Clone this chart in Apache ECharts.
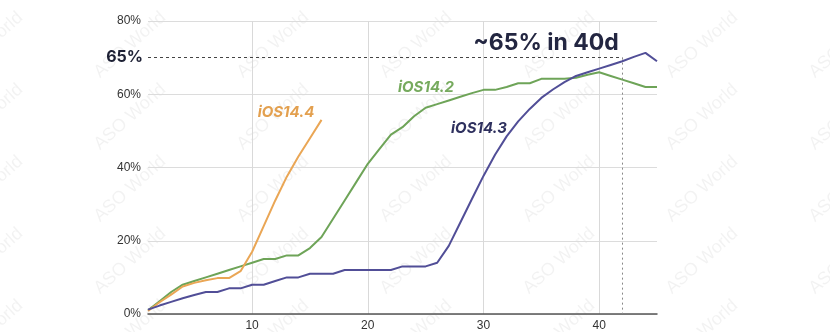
<!DOCTYPE html>
<html>
<head>
<meta charset="utf-8">
<script src="https://cdn.jsdelivr.net/npm/echarts@6/dist/echarts.min.js"></script>
<style>
html,body{margin:0;padding:0;background:#fff;}
#chart{width:830px;height:332px;}
</style>
</head>
<body>
<div id="chart"></div>
<script>
// ---- data ----
var days = [1,2,3,4,5,6,7,8,9,10,11,12,13,14,15,16,17,18,19,20,21,22,23,24,25,26,27,28,29,30,31,32,33,34,35,36,37,38,39,40,41,42,43,44,45];
var xTickLabels = [10, 20, 30, 40];
var yTicks = [0, 20, 40, 60, 80];
var ios144 = [0.8,3.2,5.3,7.5,8.5,9.2,9.8,9.8,11.7,17,24,31,37.5,43,48,53];
var ios142 = [1,3.5,6,8,9,10,11,12,13,14,15,15,16,16,18,21,26,31,36,41,45,49,51,54,56.3,57.3,58.3,59.3,60.3,61.2,61.2,62,63,63,64.2,64.2,64.2,64.5,65.3,66,65,64,63,62,62];
var ios143 = [1.2,2.3,3.3,4.3,5.2,6,6,7,7,8,8,9,10,10,11,11,11,12,12,12,12,12,13,13,13,14,18.6,25,31.4,37.7,43.5,48.5,52.6,56,59,61.3,63.3,65,66,67,68,69,70.2,71.3,69];
var targetLabel = '65%';      // annotation text
var targetLineValue = 70;     // level where the annotation line is drawn in the source
var targetDay = 42;
var seriesNames = ['iOS14.4', 'iOS14.2', 'iOS14.3'];
var headline = '~65% in 40d';

// ---- watermarks ----
var wm = [];
for (var cx = -13; cx < 900; cx += 143) {
  for (var cy = 45; cy < 400; cy += 72) {
    wm.push({
      type: 'text', x: cx, y: cy, rotation: 0.73, z: -10, silent: true,
      style: {text: 'ASO World', x: 0, y: 0, align: 'center', verticalAlign: 'middle',
        font: '18px "Liberation Sans", Arial, sans-serif', fill: 'rgba(0,0,0,0.05)'}
    });
  }
}

var chart = echarts.init(document.getElementById('chart'), null, {renderer: 'canvas'});
var labelFont = 'italic bold 15px Inter, "Open Sans", sans-serif';
chart.setOption({
  animation: false,
  backgroundColor: '#ffffff',
  grid: {left: 148, right: 173, top: 21, bottom: 18, containLabel: false},
  xAxis: {
    type: 'category',
    data: days.map(String),
    boundaryGap: false,
    axisLine: {show: true, lineStyle: {color: '#555', width: 1.5}},
    axisTick: {show: false},
    axisLabel: {
      interval: function (i, v) { return xTickLabels.indexOf(Number(v)) >= 0; },
      color: '#333', fontSize: 12, margin: 6,
      fontFamily: '"Liberation Sans", Arial, sans-serif'
    },
    splitLine: {
      show: true,
      interval: function (i, v) { return xTickLabels.indexOf(Number(v)) >= 0; },
      lineStyle: {color: '#d9d9d9', width: 1}
    }
  },
  yAxis: {
    type: 'value', min: yTicks[0], max: yTicks[yTicks.length - 1], interval: 20,
    axisLine: {show: false}, axisTick: {show: false},
    axisLabel: {formatter: '{value}%', color: '#333', fontSize: 12, margin: 7,
      fontFamily: '"Liberation Sans", Arial, sans-serif'},
    splitLine: {lineStyle: {color: '#dcdcdc', width: 1}}
  },
  series: [
    {name: seriesNames[0], type: 'line', data: ios144, showSymbol: false, symbol: 'none',
      lineStyle: {color: '#eaa655', width: 2}, itemStyle: {color: '#eaa655'}, z: 3},
    {name: seriesNames[1], type: 'line', data: ios142, showSymbol: false, symbol: 'none',
      lineStyle: {color: '#6ea458', width: 2}, itemStyle: {color: '#6ea458'}, z: 2},
    {name: seriesNames[2], type: 'line', data: ios143, showSymbol: false, symbol: 'none',
      lineStyle: {color: '#514e97', width: 2}, itemStyle: {color: '#514e97'}, z: 4,
      markLine: {
        silent: true, symbol: ['none', 'none'], animation: false,
        data: [
          [{coord: [String(days[0]), targetLineValue],
            lineStyle: {color: '#444', type: [3, 3], width: 1},
            label: {show: true, position: 'start', formatter: targetLabel, distance: 5,
              fontSize: 16, fontWeight: 'bold', fontFamily: 'Inter, sans-serif', color: '#1e2135'}},
           {coord: [String(targetDay), targetLineValue]}],
          [{coord: [String(targetDay), targetLineValue],
            lineStyle: {color: '#888', type: [2, 3], width: 1},
            label: {show: false}},
           {coord: [String(targetDay), 0]}]
        ]
      }}
  ],
  graphic: wm.concat([
    {type: 'text', x: 546, y: 43, z: 10, style: {text: headline, align: 'center', verticalAlign: 'middle',
      font: 'bold 23px Inter, sans-serif', fill: '#232641'}},
    {type: 'text', x: 286, y: 112, z: 10, style: {text: seriesNames[0], align: 'center', verticalAlign: 'middle',
      font: labelFont, fill: '#e3a04f'}},
    {type: 'text', x: 426, y: 87, z: 10, style: {text: seriesNames[1], align: 'center', verticalAlign: 'middle',
      font: labelFont, fill: '#76aa5e'}},
    {type: 'text', x: 479, y: 128, z: 10, style: {text: seriesNames[2], align: 'center', verticalAlign: 'middle',
      font: labelFont, fill: '#2e305e'}}
  ])
});
</script>
</body>
</html>
